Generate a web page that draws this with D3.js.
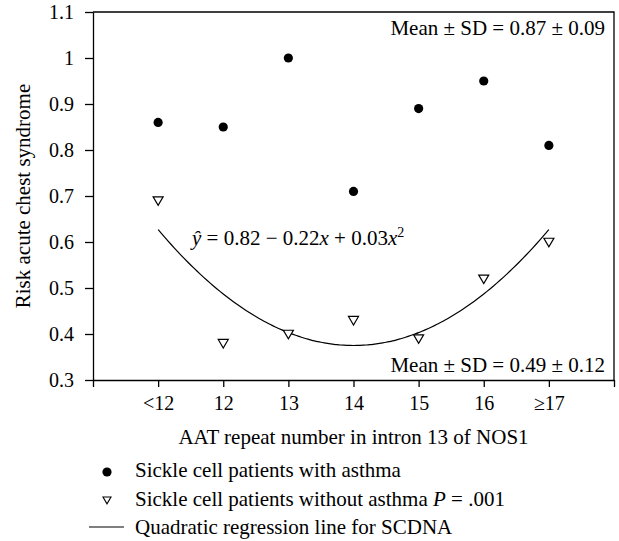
<!DOCTYPE html>
<html>
<head>
<meta charset="utf-8">
<script src="https://cdn.jsdelivr.net/npm/d3@7"></script>
<style>
  body { margin: 0; background: #fff; }
  svg { font-family: "Liberation Serif", "Times New Roman", serif; }
  .axis path, .axis line { stroke: #000; stroke-width: 1.3px; }
  .axis text { font-family: "Liberation Serif", serif; font-size: 20px; fill: #000; }
</style>
</head>
<body>
<div id="chart"></div>
<script>
// values
var categories = ['<12', '12', '13', '14', '15', '16', '\u226517'];
var withAsthma = [0.86, 0.85, 1.00, 0.71, 0.89, 0.95, 0.81];
var withoutAsthma = [0.69, 0.38, 0.40, 0.43, 0.39, 0.52, 0.60];
var yTicks = [0.3, 0.4, 0.5, 0.6, 0.7, 0.8, 0.9, 1.0, 1.1];
// quadratic fit for SCDNA: b0 + b1*x + b2*x^2
var regression = [0.823, -0.224, 0.028];

var width = 619, height = 541;
var plotLeft = 93, plotRight = 614, plotTop = 12, plotBottom = 380;

var svg = d3.select('#chart').append('svg')
    .attr('width', width)
    .attr('height', height);

var xScale = d3.scaleLinear()
    .domain([0, categories.length + 1])
    .range([plotLeft, plotRight]);

var yScale = d3.scaleLinear()
    .domain([0.3, 1.1])
    .range([plotBottom, plotTop]);

// frame top + right
svg.append('path')
    .attr('d', 'M' + plotLeft + ',' + plotTop + 'H' + plotRight + 'V' + plotBottom)
    .attr('fill', 'none')
    .attr('stroke', '#000')
    .attr('stroke-width', 1.3);

var xAxis = d3.axisBottom(xScale)
    .tickValues(d3.range(0, categories.length + 2))
    .tickFormat(function(i) { return categories[i - 1] || ''; })
    .tickSizeInner(7)
    .tickSizeOuter(0)
    .tickPadding(9);

svg.append('g')
    .attr('class', 'axis')
    .attr('transform', 'translate(0,' + plotBottom + ')')
    .call(xAxis);

var yAxis = d3.axisLeft(yScale)
    .tickValues(yTicks)
    .tickFormat(function(d) { return String(+d.toFixed(1)); })
    .tickSizeInner(8)
    .tickSizeOuter(0)
    .tickPadding(11);

svg.append('g')
    .attr('class', 'axis')
    .attr('transform', 'translate(' + plotLeft + ',0)')
    .call(yAxis);

// regression curve
var curvePts = d3.range(1, 7.001, 0.05).map(function(x) {
    return [x, regression[0] + regression[1] * x + regression[2] * x * x];
});
var line = d3.line()
    .x(function(d) { return xScale(d[0]); })
    .y(function(d) { return yScale(d[1]); })
    .curve(d3.curveBasis);

svg.append('path')
    .datum(curvePts)
    .attr('d', line)
    .attr('fill', 'none')
    .attr('stroke', '#000')
    .attr('stroke-width', 1.2);

// with asthma: filled circles
svg.selectAll('circle.asthma')
    .data(withAsthma)
    .enter()
    .append('circle')
      .attr('class', 'asthma')
      .attr('cx', function(d, i) { return xScale(i + 1); })
      .attr('cy', function(d) { return yScale(d); })
      .attr('r', 4.6)
      .attr('fill', '#000');

// without asthma: open down triangles
var tri = function(cx, cy, s) {
    return 'M' + (cx - s) + ',' + (cy - s * 0.75) + 'H' + (cx + s) + 'L' + cx + ',' + (cy + s * 0.95) + 'Z';
};
svg.selectAll('path.noasthma')
    .data(withoutAsthma)
    .enter()
    .append('path')
      .attr('class', 'noasthma')
      .attr('d', function(d, i) { return tri(xScale(i + 1), yScale(d), 5); })
      .attr('fill', '#fff')
      .attr('stroke', '#000')
      .attr('stroke-width', 1.2);

// annotations
svg.append('text')
    .attr('x', 605).attr('y', 35)
    .attr('text-anchor', 'end')
    .attr('font-size', 21)
    .text('Mean \u00b1 SD = 0.87 \u00b1 0.09');

svg.append('text')
    .attr('x', 605).attr('y', 372)
    .attr('text-anchor', 'end')
    .attr('font-size', 21)
    .text('Mean \u00b1 SD = 0.49 \u00b1 0.12');

var eq = svg.append('text')
    .attr('x', 192).attr('y', 245)
    .attr('font-size', 21);
eq.append('tspan').attr('font-style', 'italic').text('\u0177');
eq.append('tspan').text(' = 0.82 \u2212 0.22');
eq.append('tspan').attr('font-style', 'italic').text('x');
eq.append('tspan').text(' + 0.03');
eq.append('tspan').attr('font-style', 'italic').text('x');
eq.append('tspan').attr('font-size', 14).attr('dy', -8).text('2');

// axis titles
svg.append('text')
    .attr('transform', 'translate(30,' + ((plotTop + plotBottom) / 2) + ') rotate(-90)')
    .attr('text-anchor', 'middle')
    .attr('font-size', 21)
    .text('Risk acute chest syndrome');

svg.append('text')
    .attr('x', (plotLeft + plotRight) / 2).attr('y', 444)
    .attr('text-anchor', 'middle')
    .attr('font-size', 21)
    .text('AAT repeat number in intron 13 of NOS1');

// legend
var legend = svg.append('g');
legend.append('circle')
    .attr('cx', 107).attr('cy', 472).attr('r', 4.6).attr('fill', '#000');
legend.append('path')
    .attr('d', tri(107, 500, 4))
    .attr('fill', '#fff').attr('stroke', '#000').attr('stroke-width', 1.1);
legend.append('line')
    .attr('x1', 89).attr('x2', 124).attr('y1', 527).attr('y2', 527)
    .attr('stroke', '#000').attr('stroke-width', 1.1);

legend.append('text')
    .attr('x', 135).attr('y', 477).attr('font-size', 21)
    .text('Sickle cell patients with asthma');
var l2 = legend.append('text')
    .attr('x', 135).attr('y', 506).attr('font-size', 21);
l2.append('tspan').text('Sickle cell patients without asthma ');
l2.append('tspan').attr('font-style', 'italic').text('P');
l2.append('tspan').text(' = .001');
legend.append('text')
    .attr('x', 135).attr('y', 534).attr('font-size', 21)
    .text('Quadratic regression line for SCDNA');
</script>
</body>
</html>
